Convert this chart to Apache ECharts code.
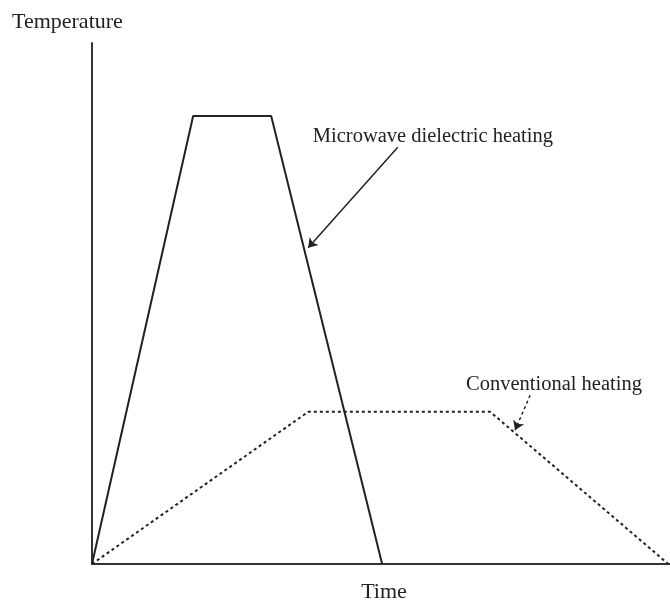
<!DOCTYPE html>
<html><head><meta charset="utf-8">
<script src="https://cdn.jsdelivr.net/npm/echarts@6/dist/echarts.min.js"></script>
<style>html,body{margin:0;padding:0;background:#fff}#c{width:670px;height:602px}</style>
</head><body><div id="c"></div>
<script>
// Data (arbitrary units: time 0-100, temperature 0-100)
var microwaveTime = [0, 17.5, 31.0, 50.2];
var microwaveTemp = [0, 86.0, 86.0, 0];
var conventionalTime = [0, 37.4, 68.9, 99.7];
var conventionalTemp = [0, 29.2, 29.2, 0];
var microwaveLabel = 'Microwave dielectric heating';
var conventionalLabel = 'Conventional heating';
var xName = 'Time';
var yName = 'Temperature';

function pairs(xs, ys){ return xs.map(function(x,i){ return [x, ys[i]]; }); }
var font = '"Liberation Serif","DejaVu Serif",serif';
var ink = '#222';

var chart = echarts.init(document.getElementById('c'));
chart.setOption({
  animation: false,
  backgroundColor: '#fff',
  grid: {left: 92, right: 0, top: 43, bottom: 38, containLabel: false, outerBoundsMode: 'none'},
  xAxis: {type: 'value', min: 0, max: 100,
    axisLine: {show: true, lineStyle: {color: '#333', width: 2}},
    axisTick: {show: false}, axisLabel: {show: false}, splitLine: {show: false},
    name: xName, nameLocation: 'middle', nameGap: 17,
    nameTextStyle: {fontFamily: font, fontSize: 22, color: ink, padding: [0,0,0,6]}},
  yAxis: {type: 'value', min: 0, max: 100,
    axisLine: {show: true, lineStyle: {color: '#333', width: 2}},
    axisTick: {show: false}, axisLabel: {show: false}, splitLine: {show: false}},
  graphic: [{type: 'text', left: 12, top: 11,
    style: {text: yName, font: '22px ' + font, fill: ink}}],
  series: [
    {type: 'line', data: pairs(microwaveTime, microwaveTemp), symbol: 'none',
      lineStyle: {color: ink, width: 2},
      markLine: {silent: true, symbol: ['none', 'arrow'], symbolSize: 9,
        label: {show: false}, lineStyle: {color: ink, width: 1.5, type: 'solid'},
        data: [[{coord: [52.9, 80.0]}, {coord: [37.4, 60.7]}]]},
      markPoint: {symbol: 'circle', symbolSize: 0,
        label: {show: true, position: 'right', distance: 0, formatter: microwaveLabel,
          fontFamily: font, fontSize: 20.5, color: ink},
        data: [{coord: [38.2, 82.0]}]}
    },
    {type: 'line', data: pairs(conventionalTime, conventionalTemp), symbol: 'none',
      lineStyle: {color: ink, width: 2, type: [3, 3]},
      markLine: {silent: true, symbol: ['none', 'arrow'], symbolSize: 9,
        label: {show: false}, lineStyle: {color: ink, width: 1.5, type: [3, 3]},
        data: [[{coord: [75.8, 32.4]}, {coord: [73.2, 25.7]}]]},
      markPoint: {symbol: 'circle', symbolSize: 0,
        label: {show: true, position: 'right', distance: 0, formatter: conventionalLabel,
          fontFamily: font, fontSize: 20.5, color: ink},
        data: [{coord: [64.7, 34.4]}]}
    }
  ]
});
</script></body></html>
